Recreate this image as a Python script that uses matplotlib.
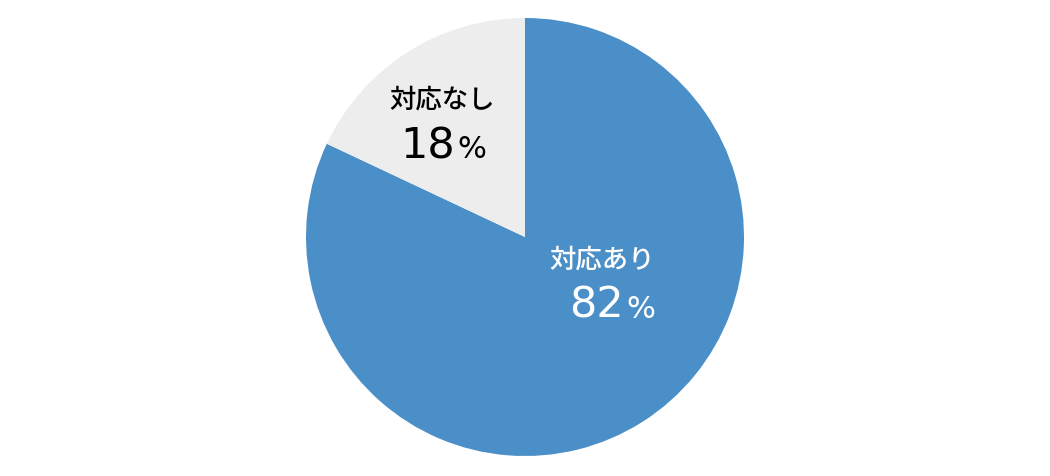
import matplotlib
matplotlib.use("Agg")
import matplotlib.pyplot as plt

labels = ["対応あり", "対応なし"]
values = [82, 18]
colors = ["#4b8fc8", "#ededed"]
text_colors = ["white", "black"]

fig = plt.figure(figsize=(10.5, 4.77), dpi=100)
# pie centre at (525, 238) px, radius 219 px
ax = fig.add_axes([306 / 1050, 20 / 477, 438 / 1050, 438 / 477])
ax.pie(values, colors=colors, startangle=90, counterclock=False,
       radius=1.0, wedgeprops=dict(linewidth=0))
ax.set_xlim(-1, 1); ax.set_ylim(-1, 1)
ax.set_aspect("equal")
ax.axis("off")

# label positions in data coordinates (pie radius = 1)
label_pos = [(0.352, -0.100), (-0.379, 0.630)]
num_pos = [(0.452, -0.365), (-0.318, 0.365)]

for lab, v, tc, (lx, ly), (nx, ny) in zip(labels, values, text_colors, label_pos, num_pos):
    ax.text(lx, ly, lab, ha="center", va="center", color=tc,
            fontsize=19, fontweight="medium",
            family=["Noto Sans CJK JP", "DejaVu Sans"])
    ax.text(nx, ny, str(v), ha="right", va="baseline", color=tc,
            fontsize=31, family="DejaVu Sans")
    ax.text(nx + 0.01, ny, "%", ha="left", va="baseline", color=tc,
            fontsize=22, family="DejaVu Sans")

fig.savefig("out.png", dpi=100)
